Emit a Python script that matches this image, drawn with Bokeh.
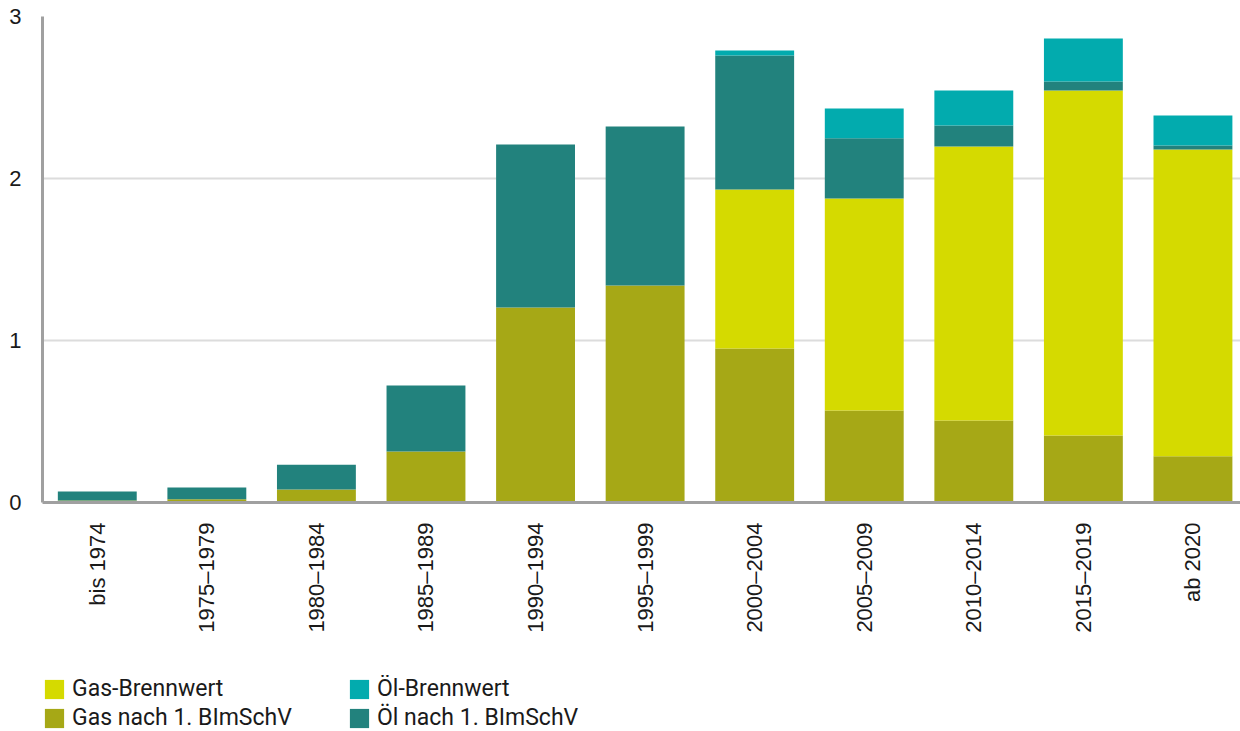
from math import pi
from bokeh.plotting import figure
from bokeh.layouts import column
from bokeh.models import Range1d, FixedTicker, Legend, LegendItem, ColumnDataSource
from bokeh.embed import file_html
from bokeh.resources import INLINE

categories = ["bis 1974", "1975–1979", "1980–1984", "1985–1989", "1990–1994",
              "1995–1999", "2000–2004", "2005–2009", "2010–2014", "2015–2019", "ab 2020"]
gas_nach = [0.013, 0.02, 0.08, 0.315, 1.204, 1.34, 0.951, 0.568, 0.506, 0.414, 0.286]
gas_bw = [0, 0, 0, 0, 0, 0, 0.981, 1.309, 1.692, 2.129, 1.893]
oel_nach = [0.055, 0.073, 0.153, 0.407, 1.006, 0.981, 0.827, 0.372, 0.129, 0.056, 0.025]
oel_bw = [0, 0, 0, 0, 0, 0, 0.031, 0.183, 0.216, 0.265, 0.185]
y_ticks = [0, 1, 2, 3]
series_labels = {"gas_bw": "Gas-Brennwert", "gas_nach": "Gas nach 1. BImSchV",
                 "oel_bw": "Öl-Brennwert", "oel_nach": "Öl nach 1. BImSchV"}

colors = {"gas_nach": "#a6a816", "gas_bw": "#d5da00", "oel_nach": "#22827d", "oel_bw": "#02abae"}

x = list(range(len(categories)))
src = ColumnDataSource(dict(x=x, gas_nach=gas_nach, gas_bw=gas_bw, oel_nach=oel_nach, oel_bw=oel_bw))

p = figure(width=1240, height=675, output_backend="svg", toolbar_location=None,
           x_range=Range1d(-0.5, 10.434), y_range=Range1d(0, 3))
p.min_border_left = 42
p.min_border_right = 0
p.min_border_top = 16
p.min_border_bottom = 173
p.outline_line_color = None

stack = ["gas_nach", "gas_bw", "oel_nach", "oel_bw"]
rs = p.vbar_stack(stack, x="x", width=0.72, source=src,
                  color=[colors[s] for s in stack], line_color=None)

p.xaxis.ticker = FixedTicker(ticks=x)
p.xaxis.major_label_overrides = {i: c for i, c in enumerate(categories)}
p.xaxis.major_label_orientation = pi / 2
p.yaxis.ticker = FixedTicker(ticks=y_ticks)
for ax in (p.xaxis, p.yaxis):
    ax.axis_line_color = "#a0a0a0"
    ax.axis_line_width = 3
    ax.major_tick_line_color = None
    ax.minor_tick_line_color = None
    ax.major_label_text_font = "Liberation Sans"
    ax.major_label_text_font_size = "22px"
    ax.major_label_text_color = "#1a1a1a"
p.xaxis.major_label_standoff = 14
p.yaxis.major_label_standoff = 15
p.xgrid.grid_line_color = None
p.ygrid.grid_line_color = "#dcdcdc"
p.ygrid.grid_line_width = 2
p.ygrid.ticker = FixedTicker(ticks=y_ticks)

# legend strip below the chart (its bars lie outside its visible range)
lg = figure(width=1240, height=56, output_backend="svg", toolbar_location=None,
            x_range=Range1d(-0.5, 10.434), y_range=Range1d(100, 101),
            x_axis_type=None, y_axis_type=None)
lg.min_border_left = 40
lg.min_border_right = 0
lg.min_border_top = 0
lg.min_border_bottom = 0
lg.outline_line_color = None
lg.xgrid.grid_line_color = None
lg.ygrid.grid_line_color = None
lrs = lg.vbar_stack(stack, x="x", width=0.72, source=src,
                    color=[colors[s] for s in stack], line_color=None)
lr = dict(zip(stack, lrs))
order = ["gas_bw", "oel_bw", "gas_nach", "oel_nach"]
items = [LegendItem(label=series_labels[k], renderers=[lr[k]]) for k in order]
legend = Legend(items=items, orientation="horizontal", ncols=2,
                glyph_width=24, glyph_height=24, label_standoff=6,
                label_width=273, label_height=20, spacing=2,
                padding=0, margin=0, border_line_color=None,
                background_fill_alpha=0,
                label_text_font="Roboto", label_text_font_size="23px",
                label_text_color="#1a1a1a", location="top_left")
lg.add_layout(legend, "center")

layout = column(p, lg, spacing=0)
open("out.html", "w").write(file_html(layout, INLINE))
